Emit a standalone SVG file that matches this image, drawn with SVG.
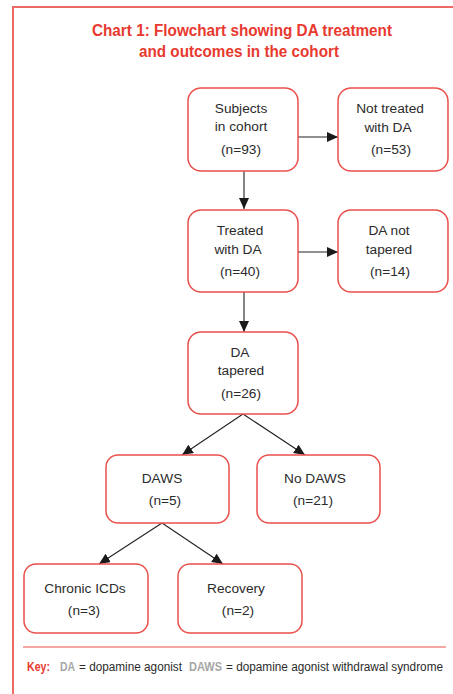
<svg xmlns="http://www.w3.org/2000/svg" width="453" height="694" viewBox="0 0 453 694">
<style>
.frame{fill:none;stroke:#ec6a63;stroke-width:2}
.box{fill:#fff;stroke:#e9504b;stroke-width:1.5}
.t{font-family:"Liberation Sans",Arial,sans-serif;font-size:13.7px;fill:#2b2b2b;text-anchor:middle}
.title{font-family:"Liberation Sans",Arial,sans-serif;font-size:16px;font-weight:bold;fill:#e8392f;text-anchor:middle}
.k{font-family:"Liberation Sans",Arial,sans-serif;font-size:12px;fill:#2b2b2b}
.kr{fill:#e8392f;font-weight:bold}
.kg{fill:#a6a6a6;font-weight:bold}
.c{fill:none;stroke:#222;stroke-width:1.1}
</style>
<defs>
<marker id="ah" markerUnits="userSpaceOnUse" markerWidth="12" markerHeight="11" refX="11" refY="5" orient="auto">
<path d="M0,0 L11,5 L0,10 z" fill="#1a1a1a"/>
</marker>
</defs>
<rect width="453" height="694" fill="#fff"/>
<path class="frame" d="M13,694 L13,7 L453,7"/>
<g id="title">
<text class="title" x="242" y="36" textLength="300" lengthAdjust="spacingAndGlyphs">Chart 1: Flowchart showing DA treatment</text>
<text class="title" x="239" y="57" textLength="200" lengthAdjust="spacingAndGlyphs">and outcomes in the cohort</text>
</g>
<g id="connectors">
<line class="c" x1="298" y1="137" x2="338" y2="137" marker-end="url(#ah)"/>
<line class="c" x1="244" y1="171" x2="244" y2="209" marker-end="url(#ah)"/>
<line class="c" x1="298" y1="252" x2="338" y2="252" marker-end="url(#ah)"/>
<line class="c" x1="244" y1="292" x2="244" y2="332" marker-end="url(#ah)"/>
<line class="c" x1="243" y1="414" x2="182" y2="455" marker-end="url(#ah)"/>
<line class="c" x1="243" y1="414" x2="305" y2="455" marker-end="url(#ah)"/>
<line class="c" x1="162" y1="523" x2="99" y2="564" marker-end="url(#ah)"/>
<line class="c" x1="162" y1="523" x2="223" y2="564" marker-end="url(#ah)"/>
</g>
<g id="subjects">
<rect class="box" x="188" y="88" width="110" height="83" rx="13"/>
<text class="t" x="241" y="113">Subjects</text>
<text class="t" x="241" y="131">in cohort</text>
<text class="t" x="241" y="154">(n=93)</text>
</g>
<g id="not-treated">
<rect class="box" x="338" y="88" width="110" height="83" rx="13"/>
<text class="t" x="390" y="113">Not treated</text>
<text class="t" x="388" y="132">with DA</text>
<text class="t" x="391" y="154">(n=53)</text>
</g>
<g id="treated">
<rect class="box" x="188" y="210" width="110" height="82" rx="13"/>
<text class="t" x="240" y="235">Treated</text>
<text class="t" x="238" y="254">with DA</text>
<text class="t" x="240" y="276">(n=40)</text>
</g>
<g id="not-tapered">
<rect class="box" x="338" y="210" width="110" height="82" rx="13"/>
<text class="t" x="389" y="235">DA not</text>
<text class="t" x="389" y="254">tapered</text>
<text class="t" x="390" y="276">(n=14)</text>
</g>
<g id="tapered">
<rect class="box" x="188" y="332" width="110" height="82" rx="13"/>
<text class="t" x="240" y="357">DA</text>
<text class="t" x="241" y="375">tapered</text>
<text class="t" x="241" y="398">(n=26)</text>
</g>
<g id="daws">
<rect class="box" x="106" y="455" width="123" height="68" rx="12"/>
<text class="t" x="162" y="483">DAWS</text>
<text class="t" x="165" y="505">(n=5)</text>
</g>
<g id="no-daws">
<rect class="box" x="257" y="455" width="123" height="68" rx="12"/>
<text class="t" x="315" y="483">No DAWS</text>
<text class="t" x="313" y="505">(n=21)</text>
</g>
<g id="chronic">
<rect class="box" x="24" y="564" width="124" height="69" rx="12"/>
<text class="t" x="85" y="593">Chronic ICDs</text>
<text class="t" x="84" y="615">(n=3)</text>
</g>
<g id="recovery">
<rect class="box" x="178" y="564" width="124" height="69" rx="12"/>
<text class="t" x="236" y="593">Recovery</text>
<text class="t" x="238" y="615">(n=2)</text>
</g>
<line x1="23" y1="647" x2="446" y2="647" stroke="#e9504b" stroke-width="1"/>
<g id="key">
<text class="k" y="671"><tspan class="kr" x="27" textLength="23" lengthAdjust="spacingAndGlyphs">Key:</tspan><tspan class="kg" x="60" textLength="15" lengthAdjust="spacingAndGlyphs">DA</tspan><tspan x="79" textLength="103" lengthAdjust="spacingAndGlyphs">= dopamine agonist</tspan><tspan class="kg" x="189" textLength="33" lengthAdjust="spacingAndGlyphs">DAWS</tspan><tspan x="226" textLength="217" lengthAdjust="spacingAndGlyphs">= dopamine agonist withdrawal syndrome</tspan></text>
</g>
</svg>
